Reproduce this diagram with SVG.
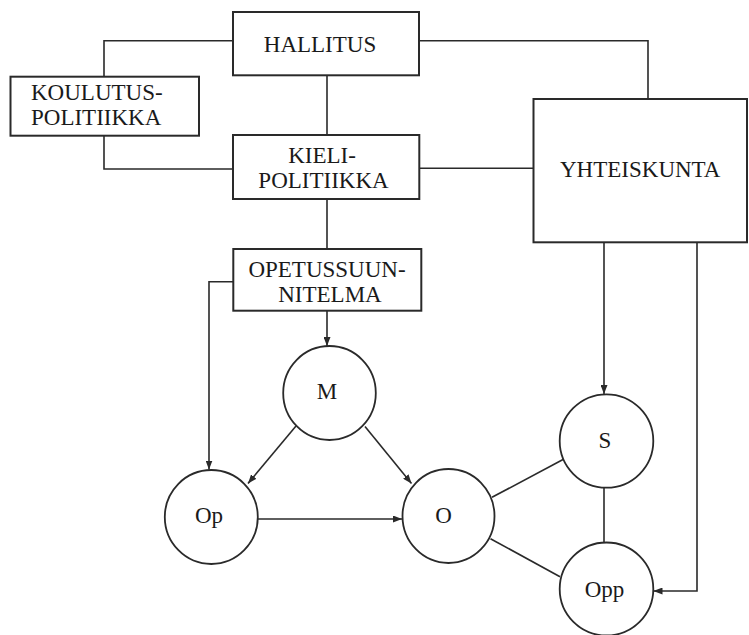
<svg xmlns="http://www.w3.org/2000/svg" width="749" height="635" viewBox="0 0 749 635">
  <defs>
    <style>
      .box { fill: #fff; stroke: #2a2a2a; stroke-width: 2; }
      .node { fill: #fff; stroke: #2a2a2a; stroke-width: 1.8; }
      .lbl { font-family: "Liberation Serif", "Times New Roman", serif; font-size: 23px; fill: #1a1a1a; }
      .mid { text-anchor: middle; }
      .wire { fill: none; stroke: #2a2a2a; stroke-width: 1.6; }
      .arr { marker-end: url(#head); }
    </style>
    <marker id="head" viewBox="0 0 9 7" refX="9" refY="3.5" markerWidth="9" markerHeight="7" markerUnits="userSpaceOnUse" orient="auto">
      <path d="M0,0 L9,3.5 L0,7 Z" fill="#2a2a2a"/>
    </marker>
  </defs>
  <rect width="749" height="635" fill="#fff"/>

  <g id="connectors">
    <!-- government links -->
    <polyline class="wire" points="233,40.7 104,40.7 104,76.7"/>
    <polyline class="wire" points="419,40.7 648,40.7 648,99"/>
    <line class="wire" x1="327" y1="75" x2="327" y2="135"/>
    <polyline class="wire" points="104,135.7 104,169 233,169"/>
    <line class="wire" x1="419" y1="168.3" x2="534" y2="168.3"/>
    <line class="wire" x1="327" y1="199" x2="327" y2="249"/>
    <!-- curriculum to classroom -->
    <line class="wire arr" x1="327" y1="311" x2="327" y2="346"/>
    <polyline class="wire arr" points="233,281.7 209,281.7 209,469.5"/>
    <line class="wire arr" x1="296" y1="426" x2="248" y2="483.5"/>
    <line class="wire arr" x1="365" y1="426.5" x2="411.5" y2="483.5"/>
    <line class="wire arr" x1="258" y1="519" x2="402" y2="519"/>
    <!-- society links -->
    <line class="wire arr" x1="604" y1="242.3" x2="604" y2="394"/>
    <polyline class="wire arr" points="697,242.3 697,591 653.5,591"/>
    <line class="wire" x1="492" y1="497.3" x2="563.5" y2="459.3"/>
    <line class="wire" x1="490.5" y1="538.7" x2="560" y2="576.7"/>
    <line class="wire" x1="604" y1="488" x2="604" y2="542"/>
  </g>

  <g id="hallitus">
    <rect class="box" x="233" y="12" width="186" height="63.3"/>
    <text class="lbl mid" x="320" y="52">HALLITUS</text>
  </g>
  <g id="koulutuspolitiikka">
    <rect class="box" x="10.5" y="76.7" width="188.5" height="59"/>
    <text class="lbl" x="31" y="100">KOULUTUS-</text>
    <text class="lbl" x="31" y="125">POLITIIKKA</text>
  </g>
  <g id="kielipolitiikka">
    <rect class="box" x="233" y="135" width="186.3" height="64"/>
    <text class="lbl mid" x="322" y="163">KIELI-</text>
    <text class="lbl mid" x="323.5" y="188">POLITIIKKA</text>
  </g>
  <g id="yhteiskunta">
    <rect class="box" x="533.5" y="99" width="213.5" height="143.3"/>
    <text class="lbl" x="560" y="177.3">YHTEISKUNTA</text>
  </g>
  <g id="opetussuunnitelma">
    <rect class="box" x="233.3" y="249" width="188" height="61.7"/>
    <text class="lbl mid" x="327" y="276.7">OPETUSSUUN-</text>
    <text class="lbl mid" x="330" y="301.7">NITELMA</text>
  </g>

  <g id="m">
    <ellipse class="node" cx="329.5" cy="393" rx="46.3" ry="47"/>
    <text class="lbl mid" x="327" y="399.3">M</text>
  </g>
  <g id="op">
    <ellipse class="node" cx="211.3" cy="517" rx="46.5" ry="47"/>
    <text class="lbl mid" x="209" y="523">Op</text>
  </g>
  <g id="o">
    <ellipse class="node" cx="448.5" cy="516" rx="46" ry="47"/>
    <text class="lbl mid" x="443.5" y="522.5">O</text>
  </g>
  <g id="s">
    <ellipse class="node" cx="606.5" cy="441" rx="46.8" ry="46.7"/>
    <text class="lbl mid" x="605" y="448">S</text>
  </g>
  <g id="opp">
    <ellipse class="node" cx="606.5" cy="589" rx="46.8" ry="46.5"/>
    <text class="lbl mid" x="604.5" y="596.7">Opp</text>
  </g>
</svg>
